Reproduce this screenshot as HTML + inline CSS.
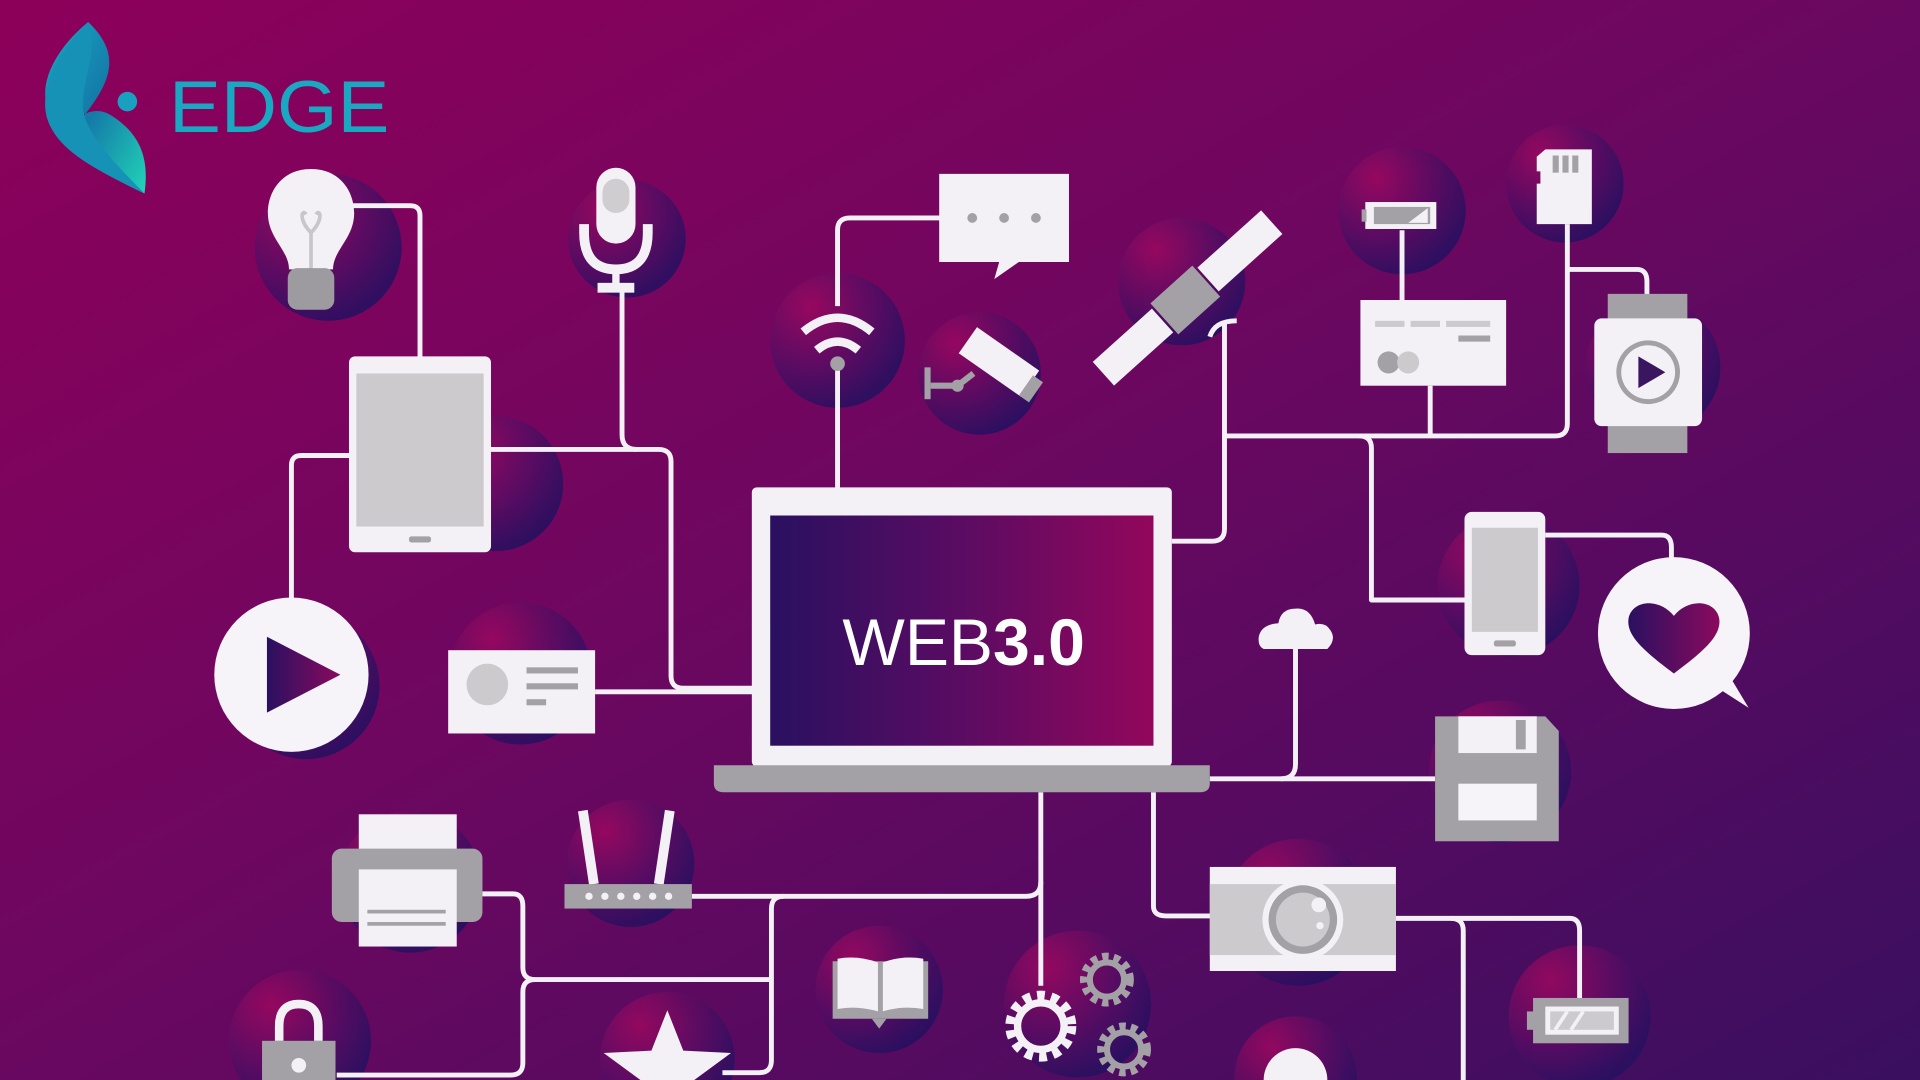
<!DOCTYPE html>
<html><head><meta charset="utf-8"><style>
html,body{margin:0;padding:0;width:1920px;height:1080px;overflow:hidden}
svg{display:block;position:absolute;left:0;top:0}
</style></head><body>
<svg width="1920" height="1080" viewBox="0 0 1568 882" preserveAspectRatio="none" xmlns="http://www.w3.org/2000/svg">
<defs>
<linearGradient id="bg" x1="0" y1="0" x2="1" y2="1">
<stop offset="0" stop-color="#8d005a"/><stop offset="0.45" stop-color="#6e0760"/><stop offset="1" stop-color="#3a0f60"/>
</linearGradient>
<radialGradient id="glow" cx="0.3" cy="0.25" r="0.8">
<stop offset="0" stop-color="#9a0860"/><stop offset="0.55" stop-color="#5a0c62"/><stop offset="1" stop-color="#261060"/>
</radialGradient>
<linearGradient id="scr" x1="0" y1="0" x2="1" y2="0">
<stop offset="0" stop-color="#2a1060"/><stop offset="0.5" stop-color="#5a0c62"/><stop offset="1" stop-color="#92075c"/>
</linearGradient>
<linearGradient id="tri" x1="0" y1="0" x2="1" y2="0">
<stop offset="0" stop-color="#2a1060"/><stop offset="1" stop-color="#8a0a5e"/>
</linearGradient>
<linearGradient id="teal" x1="0" y1="0" x2="1" y2="1">
<stop offset="0" stop-color="#18a9c2"/><stop offset="0.5" stop-color="#1479a8"/><stop offset="1" stop-color="#22d4b8"/>
</linearGradient>
</defs>
<rect width="1568" height="882" fill="url(#bg)"/>

<g fill="url(#glow)" opacity="0.9">
<circle cx="268" cy="202" r="60"/><circle cx="512" cy="195" r="48"/><circle cx="684" cy="278" r="55"/>
<circle cx="800" cy="305" r="50"/><circle cx="965" cy="230" r="52"/><circle cx="1145" cy="172" r="52"/>
<circle cx="1278" cy="150" r="48"/><circle cx="1350" cy="300" r="55"/><circle cx="405" cy="395" r="55"/>
<circle cx="1232" cy="478" r="58"/><circle cx="1225" cy="630" r="58"/><circle cx="1060" cy="745" r="60"/>
<circle cx="1290" cy="830" r="58"/><circle cx="880" cy="820" r="60"/><circle cx="718" cy="808" r="52"/>
<circle cx="515" cy="705" r="52"/><circle cx="335" cy="720" r="58"/><circle cx="425" cy="550" r="58"/>
<circle cx="250" cy="560" r="60"/><circle cx="245" cy="850" r="58"/><circle cx="545" cy="865" r="55"/>
<circle cx="1058" cy="880" r="50"/>
</g>

<g fill="none" stroke="#f4f1f6" stroke-width="4" stroke-linejoin="round">
<path d="M288 168 H335 Q343 168 343 176 V292"/>
<path d="M401 367 H538 Q548 367 548 377 V552 Q548 562 558 562 H616"/>
<path d="M508 238 V355 Q508 367 520 367"/>
<path d="M286 372 H246 Q238 372 238 380 V490"/>
<path d="M486 565 H616"/>
<path d="M684 300 V400"/>
<path d="M684 250 V188 Q684 178 694 178 H768"/>
<path d="M1000 262 V432 Q1000 442 990 442 H957"/>
<path d="M1000 356 H1270 Q1280 356 1280 346 V183"/>
<path d="M1168 315 V355"/>
<path d="M1145 188 V246"/>
<path d="M1280 220 H1337 Q1345 220 1345 230 V242"/>
<path d="M1110 356 Q1120 356 1120 366 V490 H1197"/>
<path d="M1262 437 H1357 Q1365 437 1365 447 V458"/>
<path d="M1058 530 V624 Q1058 636 1046 636 H988"/>
<path d="M1046 636 H1172"/>
<path d="M850 647 V805"/>
<path d="M850 720 Q850 732 838 732 H565"/>
<path d="M640 732 Q630 732 630 742 V866 Q630 876 620 876 H590"/>
<path d="M942 647 V740 Q942 748 952 748 H990"/>
<path d="M1140 750 H1282 Q1290 750 1290 760 V815"/>
<path d="M1185 750 Q1195 750 1195 760 V882"/>
<path d="M394 730 H419 Q427 730 427 740 V790 Q427 800 437 800 H630"/>
<path d="M437 800 Q427 800 427 810 V868 Q427 878 417 878 H275"/>
</g>

<rect x="614" y="398" width="343" height="228" rx="4" fill="#f4f1f6"/>
<rect x="629" y="421" width="313" height="188" fill="url(#scr)"/>
<path d="M583 625 H988 V640 Q988 647 980 647 H591 Q583 647 583 640 Z" fill="#a3a1a6"/>
<text x="787" y="543" text-anchor="middle" font-family="Liberation Sans, sans-serif" font-size="54" fill="#ffffff">WEB<tspan font-weight="bold">3.0</tspan></text>

<path d="M254 138 C228 138 217 160 219 178 C221 196 236 205 236 220 H272 C272 205 287 196 289 178 C291 160 280 138 254 138 Z" fill="#f4f1f6"/>
<path d="M254 220 V190 M254 190 C244 180 246 170 250 175 M254 190 C264 180 262 170 258 175" stroke="#c8c6ca" stroke-width="3" fill="none"/>
<rect x="235" y="219" width="38" height="34" rx="8" fill="#9d9b9f"/>
<rect x="487" y="137" width="32" height="62" rx="16" fill="#f4f1f6"/>
<rect x="492" y="146" width="22" height="28" rx="11" fill="#cfcdd0"/>
<path d="M477 183 V190 Q477 220 503 220 Q529 220 529 190 V183" stroke="#f4f1f6" stroke-width="8" fill="none"/>
<rect x="500" y="220" width="6" height="14" fill="#f4f1f6"/>
<rect x="488" y="231" width="30" height="8" fill="#f4f1f6"/>
<rect x="285" y="291" width="116" height="160" rx="5" fill="#f4f1f6"/>
<rect x="291" y="305" width="104" height="125" fill="#cccacd"/>
<rect x="334" y="438" width="18" height="5" rx="2" fill="#a3a1a6"/>
<circle cx="238" cy="551" r="63" fill="#f6f4f8"/>
<path d="M218 520 L278 551 L218 582 Z" fill="url(#tri)"/>
<rect x="366" y="531" width="120" height="68" fill="#f4f1f6"/>
<circle cx="398" cy="559" r="17" fill="#cccacd"/>
<rect x="430" y="545" width="42" height="5" fill="#a3a1a6"/><rect x="430" y="558" width="42" height="5" fill="#a3a1a6"/><rect x="430" y="571" width="16" height="5" fill="#a3a1a6"/>
<path d="M656 271 Q684 248 712 271" stroke="#f4f1f6" stroke-width="7" fill="none"/>
<path d="M667 286 Q684 272 701 286" stroke="#f4f1f6" stroke-width="7" fill="none"/>
<circle cx="684" cy="297" r="6" fill="#a3a1a6"/>
<path d="M767 142 H873 V214 H832 L812 228 L816 214 H767 Z" fill="#f4f1f6"/>
<circle cx="794" cy="178" r="4" fill="#a3a1a6"/><circle cx="820" cy="178" r="4" fill="#a3a1a6"/><circle cx="846" cy="178" r="4" fill="#a3a1a6"/>
<g transform="rotate(35 815 295)"><rect x="785" y="282" width="62" height="26" fill="#f4f1f6"/><rect x="845" y="288" width="10" height="20" fill="#a3a1a6"/></g>
<path d="M760 315 H782 L795 305" stroke="#a3a1a6" stroke-width="5" fill="none"/><circle cx="782" cy="315" r="5" fill="#a3a1a6"/><rect x="755" y="300" width="5" height="26" fill="#a3a1a6"/>
<g transform="rotate(-42 968 245)">
<rect x="878" y="232" width="65" height="26" fill="#f4f1f6"/>
<rect x="993" y="232" width="70" height="26" fill="#f4f1f6"/>
<rect x="945" y="228" width="46" height="34" fill="#a3a1a6"/>
</g>
<path d="M988 275 Q992 262 1010 262" stroke="#f4f1f6" stroke-width="4" fill="none"/>
<rect x="1115" y="165" width="58" height="22" fill="#f4f1f6"/><rect x="1122" y="169" width="46" height="14" fill="#a3a1a6"/><rect x="1112" y="171" width="4" height="10" fill="#a3a1a6"/>
<path d="M1150 182 L1166 170 V182 Z" fill="#f4f1f6"/>
<rect x="1111" y="245" width="119" height="70" fill="#f4f1f6"/>
<rect x="1123" y="262" width="24" height="5" fill="#cccacd"/><rect x="1152" y="262" width="24" height="5" fill="#cccacd"/><rect x="1181" y="262" width="36" height="5" fill="#cccacd"/>
<rect x="1191" y="274" width="26" height="5" fill="#a3a1a6"/>
<circle cx="1134" cy="296" r="9" fill="#a3a1a6"/><circle cx="1150" cy="296" r="9" fill="#cccacd"/>
<path d="M1262 122 H1300 V183 H1255 V150 H1258 V140 H1255 V128 Z" fill="#f4f1f6"/>
<rect x="1268" y="127" width="5" height="14" fill="#a3a1a6"/><rect x="1276" y="127" width="5" height="14" fill="#a3a1a6"/><rect x="1284" y="127" width="5" height="14" fill="#a3a1a6"/>
<rect x="1313" y="240" width="65" height="130" fill="#a3a1a6"/>
<rect x="1302" y="260" width="88" height="88" rx="6" fill="#f4f1f6"/>
<circle cx="1346" cy="304" r="26" fill="#a3a1a6"/><circle cx="1346" cy="304" r="22" fill="#f4f1f6"/>
<path d="M1338 291 L1360 304 L1338 317 Z" fill="#3a1560"/>
<rect x="1196" y="418" width="66" height="117" rx="6" fill="#f4f1f6"/>
<rect x="1202" y="431" width="54" height="85" fill="#cccacd"/>
<rect x="1220" y="523" width="18" height="5" rx="2" fill="#a3a1a6"/>
<circle cx="1367" cy="517" r="62" fill="#f6f4f8"/>
<path d="M1400 560 L1428 578 L1410 548 Z" fill="#f6f4f8"/>
<path d="M1367 550 C1340 530 1328 518 1330 505 C1333 490 1355 488 1367 503 C1379 488 1401 490 1404 505 C1406 518 1394 530 1367 550 Z" fill="url(#tri)"/>
<path d="M1032 530 H1084 Q1092 522 1086 514 Q1082 508 1074 510 Q1070 496 1058 497 Q1046 497 1044 509 Q1030 510 1028 520 Q1027 528 1032 530 Z" fill="#f4f1f6"/>
<path d="M1172 585 H1262 L1273 597 V687 H1172 Z" fill="#a3a1a6"/>
<rect x="1191" y="585" width="64" height="30" fill="#f4f1f6"/><rect x="1238" y="588" width="8" height="24" fill="#a3a1a6"/>
<rect x="1191" y="640" width="64" height="30" fill="#f6f4f8"/>
<rect x="988" y="708" width="152" height="85" fill="#f4f1f6"/>
<rect x="988" y="722" width="152" height="58" fill="#cccacd"/>
<circle cx="1064" cy="751" r="33" fill="#f4f1f6"/><circle cx="1064" cy="751" r="28" fill="#a3a1a6"/><circle cx="1064" cy="751" r="22" fill="#cccacd"/>
<circle cx="1077" cy="739" r="6" fill="#f4f1f6"/><circle cx="1078" cy="756" r="3" fill="#f4f1f6"/>
<rect x="1252" y="815" width="78" height="37" fill="#a3a1a6"/><rect x="1247" y="826" width="6" height="15" fill="#a3a1a6"/>
<rect x="1262" y="822" width="60" height="23" fill="#f4f1f6"/><rect x="1266" y="826" width="52" height="15" fill="#cccacd"/>
<path d="M1270 841 L1280 826 M1283 841 L1293 826" stroke="#f4f1f6" stroke-width="3"/>
<g fill="none">
<circle cx="850" cy="838" r="24" stroke="#f4f1f6" stroke-width="10" stroke-dasharray="6 5"/>
<circle cx="850" cy="838" r="19" stroke="#f4f1f6" stroke-width="6"/>
<circle cx="904" cy="800" r="18" stroke="#a3a1a6" stroke-width="8" stroke-dasharray="5 4"/>
<circle cx="904" cy="800" r="14" stroke="#a3a1a6" stroke-width="5"/>
<circle cx="918" cy="857" r="18" stroke="#a3a1a6" stroke-width="8" stroke-dasharray="5 4"/>
<circle cx="918" cy="857" r="14" stroke="#a3a1a6" stroke-width="5"/>
</g>
<path d="M680 785 H758 V832 H680 Z" fill="#a3a1a6"/>
<path d="M684 783 Q700 780 717 786 V826 Q700 821 684 824 Z M721 786 Q737 780 754 783 V824 Q737 821 721 826 Z" fill="#f4f1f6"/>
<path d="M712 832 L718 840 L724 832 Z" fill="#a3a1a6"/>
<path d="M476 662 L485 722 M547 662 L538 722" stroke="#f4f1f6" stroke-width="8"/>
<rect x="461" y="722" width="104" height="20" fill="#a3a1a6"/>
<g fill="#f4f1f6"><circle cx="481" cy="732" r="3"/><circle cx="494" cy="732" r="3"/><circle cx="507" cy="732" r="3"/><circle cx="520" cy="732" r="3"/><circle cx="533" cy="732" r="3"/><circle cx="546" cy="732" r="3"/></g>
<rect x="293" y="665" width="80" height="42" fill="#f4f1f6"/>
<rect x="271" y="693" width="123" height="60" rx="8" fill="#a3a1a6"/>
<rect x="293" y="710" width="80" height="63" fill="#f4f1f6"/>
<rect x="300" y="743" width="64" height="3" fill="#a3a1a6"/><rect x="300" y="753" width="64" height="3" fill="#a3a1a6"/>
<path d="M228 850 V838 Q228 820 244 820 Q260 820 260 838 V850" stroke="#f4f1f6" stroke-width="7" fill="none"/>
<rect x="214" y="850" width="60" height="40" fill="#a3a1a6"/><circle cx="244" cy="870" r="6" fill="#f4f1f6"/>
<path d="M545 825 L558 858 L597 860 L567 882 H523 L493 860 L532 858 Z" fill="#f4f1f6"/>
<circle cx="1058" cy="882" r="26" fill="#f4f1f6"/>

<path d="M72 18 C95 40 95 60 72 90 C55 110 60 130 118 158 C122 130 115 110 92 95 C70 80 60 110 40 90 C30 70 45 40 72 18 Z" fill="url(#teal)"/>
<path d="M72 18 C50 40 32 70 38 95 C45 120 70 135 118 158 C80 120 65 100 68 80 C70 55 80 40 72 18 Z" fill="#1692b6"/>
<circle cx="104" cy="83" r="8" fill="#19a0c0"/>
<text x="138" y="108" font-family="Liberation Sans, sans-serif" font-size="60" fill="#1aa7c2" textLength="180" lengthAdjust="spacingAndGlyphs">EDGE</text>
</svg>
</body></html>
